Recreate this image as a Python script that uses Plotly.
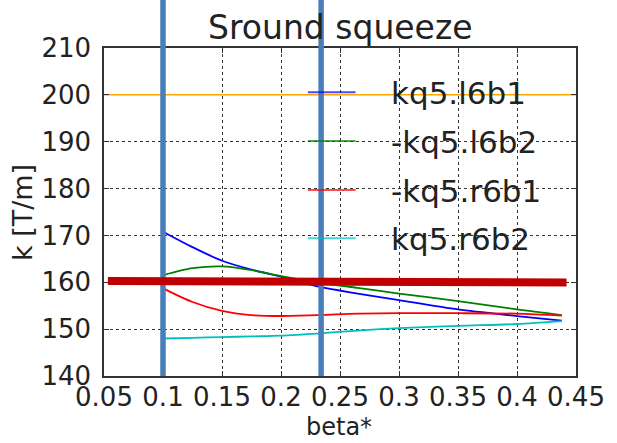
import plotly.graph_objects as go

# ---- data ----
beta = [0.1, 0.125, 0.15, 0.175, 0.2, 0.233, 0.265, 0.3, 0.35, 0.4, 0.438]
kq5_l6b1 = [170.8, 167.5, 164.6, 162.7, 161.2, 159.0, 157.6, 156.2, 154.2, 152.8, 151.8]
m_kq5_l6b2 = [161.5, 163.0, 163.4, 162.6, 161.3, 159.9, 158.8, 157.6, 156.0, 154.2, 153.0]
m_kq5_r6b1 = [158.7, 155.8, 153.9, 153.0, 152.8, 153.0, 153.3, 153.4, 153.4, 153.3, 152.9]
kq5_r6b2 = [148.0, 148.15, 148.3, 148.45, 148.6, 149.1, 149.7, 150.2, 150.7, 151.1, 151.7]

series_names = ["kq5.l6b1", "-kq5.l6b2", "-kq5.r6b1", "kq5.r6b2"]
series_values = [kq5_l6b1, m_kq5_l6b2, m_kq5_r6b1, kq5_r6b2]
series_colors = ["#0000FF", "#008000", "#FF0000", "#00BFBF"]

limit_x = [0.05, 0.45]
limit_y = [200, 200]

marker_beta = [0.1, 0.234]          # vertical highlight lines
redbar_x = [0.0533, 0.442]          # horizontal highlight bar
redbar_y = [160.3, 159.95]

x_ticks = [0.05, 0.1, 0.15, 0.2, 0.25, 0.3, 0.35, 0.4, 0.45]
x_ticklabels = ["0.05", "0.1", "0.15", "0.2", "0.25", "0.3", "0.35", "0.4", "0.45"]
y_ticks = [140, 150, 160, 170, 180, 190, 200, 210]

W, H = 617, 443
L, R, T, B = 104, 29, 48, 67
PW, PH = W - L - R, H - T - B

def px_x(p):
    return (p - L) / PW

def px_y(p):
    return (H - B - p) / PH

FONT = "DejaVu Sans"
TXT = "#222222"

fig = go.Figure()

fig.add_trace(go.Scatter(x=limit_x, y=limit_y, mode="lines",
                         line=dict(color="#FFA500", width=1.5),
                         showlegend=False, hoverinfo="skip"))

for name, vals, col in zip(series_names, series_values, series_colors):
    fig.add_trace(go.Scatter(x=beta, y=vals, mode="lines", name=name,
                             line=dict(color=col, width=1.8, shape="spline", smoothing=0.8),
                             showlegend=False))

shapes = []
for b in marker_beta:
    shapes.append(dict(type="line", xref="x", yref="paper", x0=b, x1=b,
                       y0=0, y1=1 + T / PH, line=dict(color="#4A7EBB", width=5.5),
                       layer="above"))

shapes.append(dict(type="line", xref="x", yref="y",
                   x0=redbar_x[0], x1=redbar_x[1], y0=redbar_y[0], y1=redbar_y[1],
                   line=dict(color="#C00000", width=8), layer="above"))

# custom legend
leg_y = [92.3, 141, 190, 238.3]
annotations = []
for name, col, yy in zip(series_names, series_colors, leg_y):
    shapes.append(dict(type="line", xref="paper", yref="paper",
                       x0=px_x(313), x1=px_x(362), y0=px_y(yy), y1=px_y(yy),
                       line=dict(color=col, width=2), opacity=0.7, layer="above"))
    annotations.append(dict(xref="paper", yref="paper", x=px_x(396), y=px_y(yy + 1),
                            text=name, showarrow=False, xanchor="left", yanchor="middle",
                            font=dict(family=FONT, size=31, color=TXT)))

annotations.append(dict(xref="paper", yref="paper", x=px_x(346), y=px_y(27),
                        text="Sround squeeze", showarrow=False, xanchor="center",
                        yanchor="middle", font=dict(family=FONT, size=33, color=TXT)))
annotations.append(dict(xref="paper", yref="paper", x=px_x(345), y=px_y(443),
                        text="beta*", showarrow=False, xanchor="center",
                        yanchor="bottom", font=dict(family=FONT, size=24, color=TXT)))
annotations.append(dict(xref="paper", yref="paper", x=px_x(20), y=px_y(213),
                        text="k [T/m]", showarrow=False, xanchor="center",
                        yanchor="middle", textangle=-90,
                        font=dict(family=FONT, size=27, color=TXT)))

axis_common = dict(showline=True, linecolor="#333333", linewidth=1.5, mirror="ticks",
                   ticks="inside", ticklen=5, tickcolor="#333333", tickwidth=1,
                   showgrid=True, gridcolor="#333333", gridwidth=1, griddash="dot",
                   zeroline=False)

fig.update_layout(
    width=W, height=H,
    margin=dict(l=L, r=R, t=T, b=B),
    paper_bgcolor="white", plot_bgcolor="white",
    showlegend=False,
    shapes=shapes, annotations=annotations,
    xaxis=dict(range=[0.05, 0.45], tickvals=x_ticks, ticktext=x_ticklabels,
               ticklabelstandoff=-3,
               tickfont=dict(family=FONT, size=26, color=TXT), **axis_common),
    yaxis=dict(range=[140, 210], tickvals=y_ticks, ticklabelstandoff=6,
               tickfont=dict(family=FONT, size=26, color=TXT), **axis_common),
)

fig.write_html("out.html")
